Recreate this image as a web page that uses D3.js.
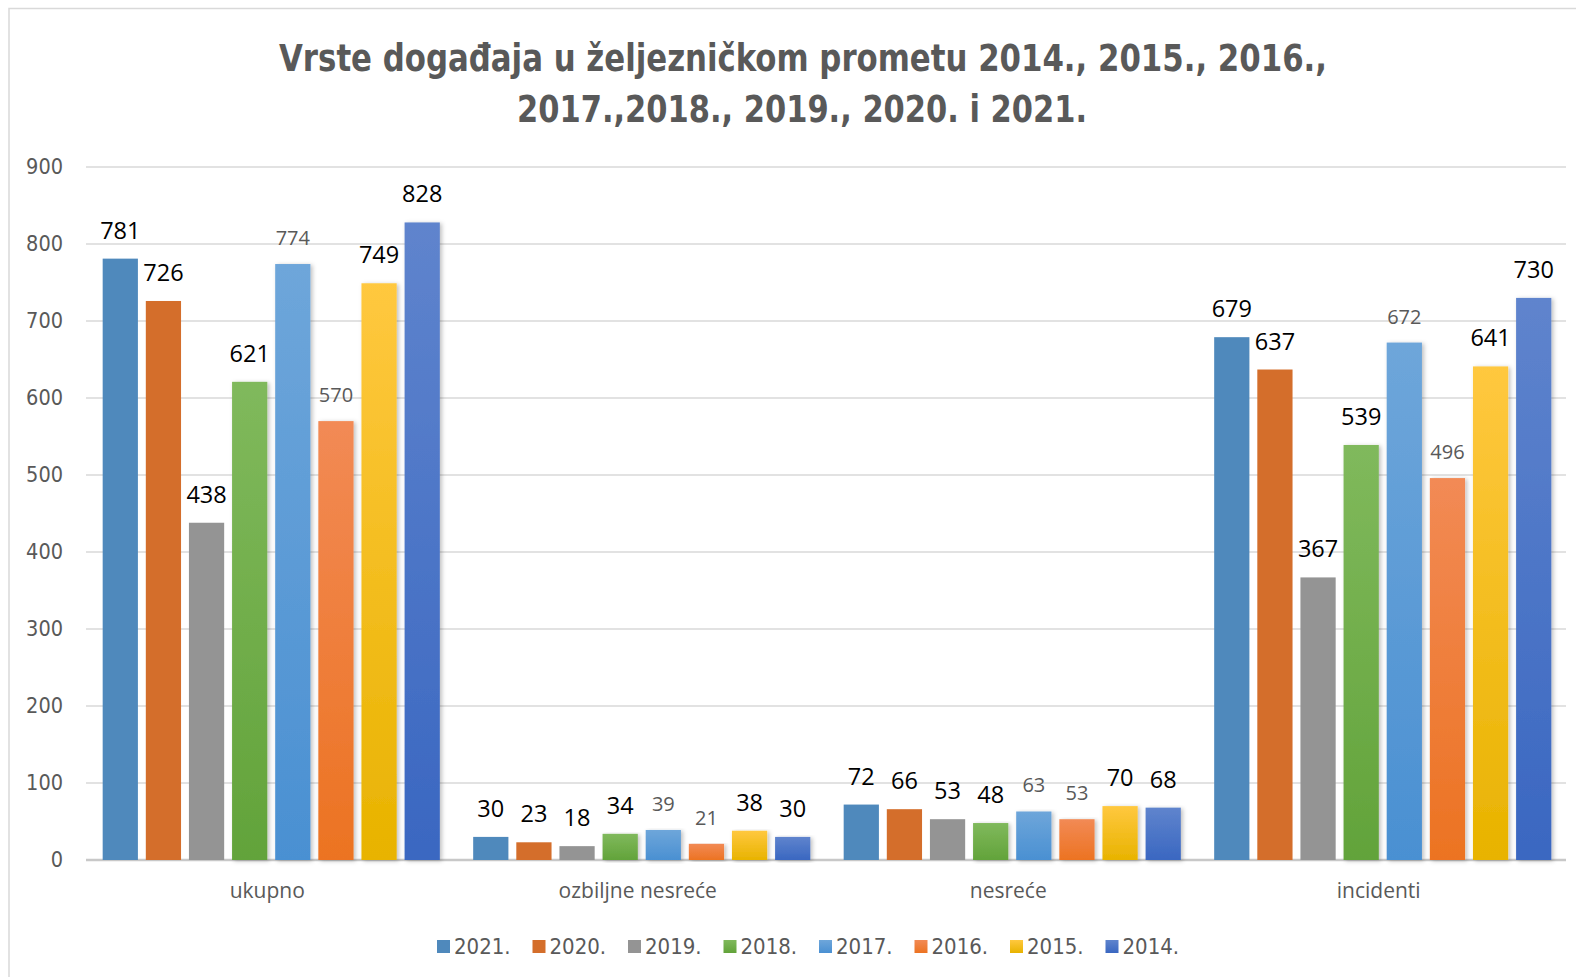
<!DOCTYPE html>
<html>
<head>
<meta charset="utf-8">
<script src="https://cdn.jsdelivr.net/npm/d3@7"></script>
<style>
  body { margin: 0; background: #fff; }
</style>
</head>
<body>
<script>
// categories and series
const categories = ["ukupno", "ozbiljne nesreće", "nesreće", "incidenti"];
const years = ["2021.", "2020.", "2019.", "2018.", "2017.", "2016.", "2015.", "2014."];
const v2021 = [781, 30, 72, 679];
const v2020 = [726, 23, 66, 637];
const v2019 = [438, 18, 53, 367];
const v2018 = [621, 34, 48, 539];
const v2017 = [774, 39, 63, 672];
const v2016 = [570, 21, 53, 496];
const v2015 = [749, 38, 70, 641];
const v2014 = [828, 30, 68, 730];
const yTicks = [0, 100, 200, 300, 400, 500, 600, 700, 800, 900];
const titleLines = ["Vrste događaja u željezničkom prometu 2014., 2015., 2016.,",
                    "2017.,2018., 2019., 2020. i 2021."];

const seriesValues = [v2021, v2020, v2019, v2018, v2017, v2016, v2015, v2014];
// colours: [top, bottom] of each bar fill
const colors = [
  ["#4f89bc", "#4f89bc"],
  ["#d46e2b", "#d46e2b"],
  ["#949494", "#949494"],
  ["#80b95c", "#62a33a"],
  ["#6ea6da", "#4a90d2"],
  ["#f28a55", "#ec7322"],
  ["#ffc83f", "#e8b300"],
  ["#5f84cd", "#3a67c1"]
];
const grayLabel = ["2017.", "2016."];

const width = 1576, height = 977;
const plotLeft = 86, plotRight = 1566, plotTop = 167, plotBottom = 860;
const groupStep = 370.5;

const svg = d3.select("body").append("svg")
  .attr("width", width)
  .attr("height", height);

const defs = svg.append("defs");
colors.forEach(function (c, i) {
  const g = defs.append("linearGradient")
    .attr("id", "grad" + i)
    .attr("x1", 0).attr("y1", 0).attr("x2", 0).attr("y2", 1);
  g.append("stop").attr("offset", "0%").attr("stop-color", c[0]);
  g.append("stop").attr("offset", "100%").attr("stop-color", c[1]);
});
defs.append("filter").attr("id", "shadow")
  .attr("x", "-20%").attr("y", "-5%").attr("width", "150%").attr("height", "115%")
  .append("feDropShadow")
  .attr("dx", 2).attr("dy", 1).attr("stdDeviation", 2)
  .attr("flood-color", "#000").attr("flood-opacity", 0.25);

// chart border
svg.append("rect")
  .attr("x", 9).attr("y", 8.5)
  .attr("width", 1600).attr("height", 1000)
  .attr("fill", "none")
  .attr("stroke", "#d9d9d9")
  .attr("stroke-width", 1.5);

// title
const narrow = "'Liberation Sans Narrow', 'DejaVu Sans Condensed', 'Arial Narrow', sans-serif";
const title = svg.append("g")
  .attr("font-family", narrow)
  .attr("font-weight", "bold")
  .attr("font-size", 37)
  .attr("fill", "#595959")
  .attr("text-anchor", "middle");
title.append("text").attr("x", 803).attr("y", 71)
  .attr("textLength", 1048).attr("lengthAdjust", "spacingAndGlyphs")
  .text(titleLines[0]);
title.append("text").attr("x", 802).attr("y", 122)
  .attr("textLength", 570).attr("lengthAdjust", "spacingAndGlyphs")
  .text(titleLines[1]);

// scales
const y = d3.scaleLinear().domain([0, 900]).range([plotBottom, plotTop]);
const x0 = d3.scaleBand().domain(categories).range([plotLeft, plotLeft + 4 * groupStep])
  .paddingInner(0.09).paddingOuter(0.045);
const x1 = d3.scaleBand().domain(years).range([0, x0.bandwidth()])
  .paddingInner(0.183).paddingOuter(0);

// gridlines
svg.append("g")
  .selectAll("line")
  .data(yTicks)
  .join("line")
  .attr("x1", plotLeft).attr("x2", plotRight)
  .attr("y1", d => y(d)).attr("y2", d => y(d))
  .attr("stroke", d => d === 0 ? "#c8c8c8" : "#d9d9d9")
  .attr("stroke-width", d => d === 0 ? 2.5 : 1.5);

// y axis labels
const yAxis = svg.append("g")
  .attr("transform", "translate(" + (plotLeft - 23) + ",0)")
  .call(d3.axisLeft(y).tickValues(yTicks).tickSize(0).tickPadding(0));
yAxis.select(".domain").remove();
yAxis.selectAll("text")
  .attr("font-family", narrow)
  .attr("font-size", 21.5)
  .attr("fill", "#595959");

// bars
const groups = svg.append("g")
  .selectAll("g")
  .data(categories)
  .join("g")
  .attr("transform", d => "translate(" + x0(d) + ",0)");

const cells = groups.selectAll("g")
  .data(function (c, ci) {
    return years.map(function (yr, si) {
      return { year: yr, si: si, value: seriesValues[si][ci] };
    });
  })
  .join("g");

cells.append("rect")
  .attr("x", d => x1(d.year))
  .attr("y", d => y(d.value))
  .attr("width", x1.bandwidth())
  .attr("height", d => y(0) - y(d.value))
  .attr("fill", d => "url(#grad" + d.si + ")")
  .attr("filter", d => d.si >= 3 ? "url(#shadow)" : null);

cells.append("text")
  .attr("x", d => x1(d.year) + x1.bandwidth() / 2)
  .attr("y", d => y(d.value) - (grayLabel.includes(d.year) ? 19 : 20))
  .attr("text-anchor", "middle")
  .attr("font-family", "'Open Sans', 'Noto Sans', sans-serif")
  .attr("font-size", d => grayLabel.includes(d.year) ? 20 : 23.5)
  .attr("fill", d => grayLabel.includes(d.year) ? "#595959" : "#000")
  .text(d => d.value);

// category labels
svg.append("g")
  .selectAll("text")
  .data(categories)
  .join("text")
  .attr("x", d => x0(d) + x0.bandwidth() / 2 - 4)
  .attr("y", 898)
  .attr("text-anchor", "middle")
  .attr("font-family", "'Open Sans', 'Noto Sans', sans-serif")
  .attr("font-size", 21)
  .attr("fill", "#595959")
  .text(d => d);

// legend
const legend = svg.append("g")
  .selectAll("g")
  .data(years)
  .join("g")
  .attr("transform", (d, i) => "translate(" + (437 + i * 95.5) + ",940)");
legend.append("rect")
  .attr("width", 13).attr("height", 13)
  .attr("fill", (d, i) => "url(#grad" + i + ")");
legend.append("text")
  .attr("x", 17).attr("y", 14)
  .attr("font-family", narrow)
  .attr("font-size", 22)
  .attr("fill", "#595959")
  .text(d => d);
</script>
</body>
</html>
